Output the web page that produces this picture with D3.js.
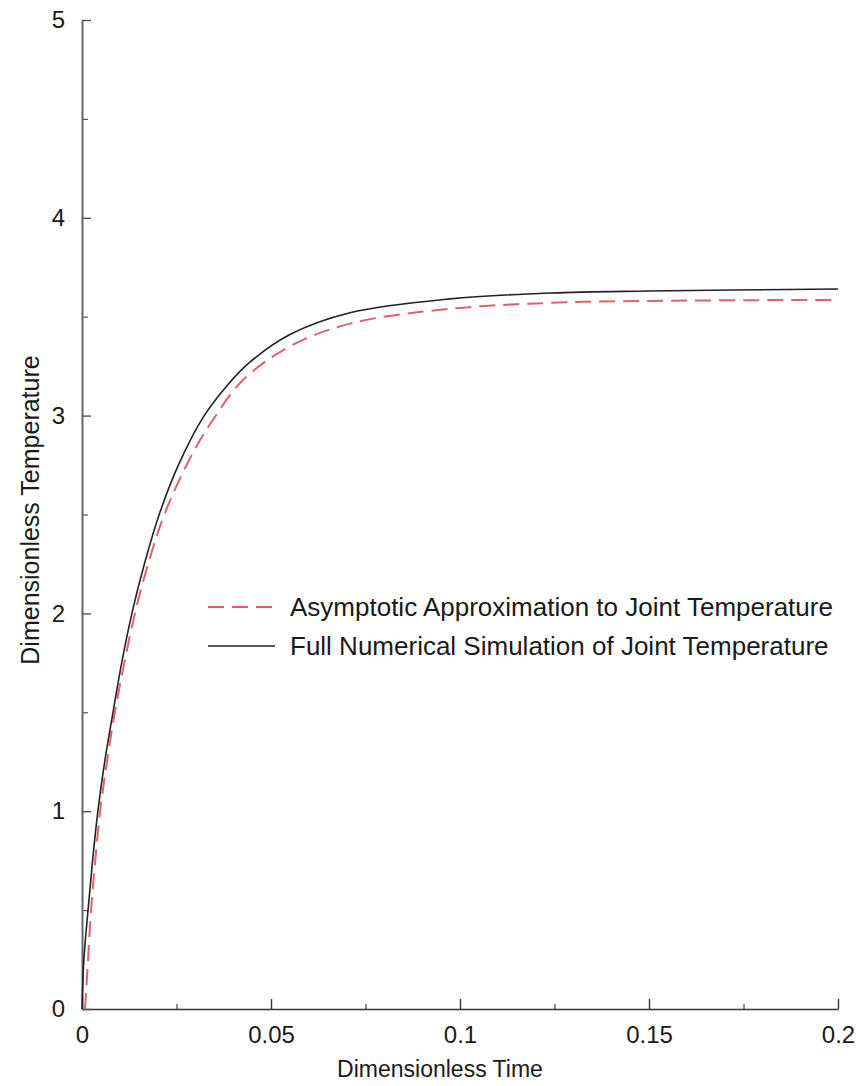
<!DOCTYPE html>
<html>
<head>
<meta charset="utf-8">
<script src="https://cdn.jsdelivr.net/npm/d3@7"></script>
<style>
  html, body { margin: 0; padding: 0; background: #fff; }
  svg { display: block; font-family: "Liberation Sans", Arial, Helvetica, sans-serif; }
</style>
</head>
<body>
<svg id="chart" width="865" height="1086"></svg>
<script>
// Joint temperature response: full numerical simulation vs asymptotic approximation
const timeFull = [0, 0.0005, 0.0016, 0.0028, 0.0042, 0.006, 0.0082, 0.0105, 0.0132, 0.0165,
                  0.0206, 0.0255, 0.032, 0.0383, 0.0444, 0.055, 0.0709, 0.0974, 0.124, 0.15, 0.2];
const tempFull = [0, 0.25, 0.5, 0.75, 1.0, 1.25, 1.5, 1.75, 2.0, 2.25,
                  2.51, 2.75, 2.99, 3.15, 3.27, 3.41, 3.52, 3.59, 3.62, 3.63, 3.64];

const timeAsym = [0.0008, 0.0016, 0.0024, 0.0035, 0.0048, 0.0066, 0.0087, 0.0112, 0.014, 0.0178,
                  0.022, 0.029, 0.0347, 0.0426, 0.055, 0.0709, 0.0974, 0.124, 0.15, 0.2];
const tempAsym = [0, 0.25, 0.5, 0.75, 1.0, 1.25, 1.5, 1.75, 2.0, 2.27,
                  2.51, 2.8, 2.98, 3.18, 3.35, 3.465, 3.54, 3.57, 3.58, 3.585];

const seriesNames = ["Asymptotic Approximation to Joint Temperature",
                     "Full Numerical Simulation of Joint Temperature"];

const xTickValues = [0, 0.05, 0.1, 0.15, 0.2];
const xTickLabels = ["0", "0.05", "0.1", "0.15", "0.2"];
const xMinorTicks = [0.025, 0.075, 0.125, 0.175];
const yTickValues = [0, 1, 2, 3, 4, 5];
const yTickLabels = ["0", "1", "2", "3", "4", "5"];
const yMinorTicks = [0.5, 1.5, 2.5, 3.5, 4.5];

const xTitle = "Dimensionless Time";
const yTitle = "Dimensionless Temperature";

const svg = d3.select("#chart");

const x = d3.scaleLinear().domain([0, 0.2]).range([82, 838]);
const y = d3.scaleLinear().domain([0, 5]).range([1009, 20]);

const ink = "#1a1a1a";

// minor ticks (inward)
svg.append("g")
  .attr("transform", `translate(0,${y(0)})`)
  .call(d3.axisBottom(x).tickValues(xMinorTicks).tickSize(-5).tickSizeOuter(0).tickFormat(""))
  .call(g => g.select(".domain").remove())
  .call(g => g.selectAll("line").attr("stroke", "#444").attr("stroke-width", 1.2));

svg.append("g")
  .attr("transform", `translate(${x(0)},0)`)
  .call(d3.axisLeft(y).tickValues(yMinorTicks).tickSize(-6).tickSizeOuter(0).tickFormat(""))
  .call(g => g.select(".domain").remove())
  .call(g => g.selectAll("line").attr("stroke", "#555").attr("stroke-width", 1.2));

// major axes
const xAxis = svg.append("g")
  .attr("transform", `translate(0,${y(0)})`)
  .call(d3.axisBottom(x).tickValues(xTickValues).tickSize(-10).tickSizeOuter(0).tickPadding(17)
    .tickFormat((d, i) => xTickLabels[i]));
xAxis.select(".domain").attr("stroke", "#333").attr("stroke-width", 1.6);
xAxis.selectAll("line").attr("stroke", "#333").attr("stroke-width", 1.4);
xAxis.selectAll("text").attr("font-size", 24).attr("fill", ink).attr("font-family", null);

const yAxis = svg.append("g")
  .attr("transform", `translate(${x(0)},0)`)
  .call(d3.axisLeft(y).tickValues(yTickValues).tickSize(-9).tickSizeOuter(0).tickPadding(17)
    .tickFormat((d, i) => yTickLabels[i]));
yAxis.select(".domain").attr("stroke", "#666").attr("stroke-width", 2);
yAxis.selectAll("line").attr("stroke", "#555").attr("stroke-width", 1.4);
yAxis.selectAll("text").attr("font-size", 24).attr("fill", ink).attr("font-family", null);

// curves
const lineFull = d3.line()
  .x((d, i) => x(timeFull[i]))
  .y(d => y(d))
  .curve(d3.curveCatmullRom.alpha(0.5));
const lineAsym = d3.line()
  .x((d, i) => x(timeAsym[i]))
  .y(d => y(d))
  .curve(d3.curveCatmullRom.alpha(0.5));

const redColor = "#e2606c";

svg.append("path")
  .attr("d", lineAsym(tempAsym))
  .attr("fill", "none")
  .attr("stroke", redColor)
  .attr("stroke-width", 2)
  .attr("stroke-dasharray", "16,8");

svg.append("path")
  .attr("d", lineFull(tempFull))
  .attr("fill", "none")
  .attr("stroke", "#222")
  .attr("stroke-width", 1.6);

// legend
const legend = svg.append("g");
const legendRows = [
  { name: seriesNames[0], color: redColor, dash: "16,8", width: 2, yv: 607 },
  { name: seriesNames[1], color: "#222", dash: null, width: 1.6, yv: 646 }
];
legendRows.forEach(r => {
  legend.append("line")
    .attr("x1", 208).attr("x2", 275)
    .attr("y1", r.yv).attr("y2", r.yv)
    .attr("stroke", r.color)
    .attr("stroke-width", r.width)
    .attr("stroke-dasharray", r.dash);
  legend.append("text")
    .attr("x", 290).attr("y", r.yv)
    .attr("dominant-baseline", "central")
    .attr("font-size", 26)
    .attr("fill", ink)
    .text(r.name);
});

// axis titles
svg.append("text")
  .attr("x", 440).attr("y", 1077)
  .attr("text-anchor", "middle")
  .attr("font-size", 23)
  .attr("fill", ink)
  .text(xTitle);

svg.append("text")
  .attr("transform", "translate(30,510) rotate(-90)")
  .attr("text-anchor", "middle")
  .attr("dominant-baseline", "central")
  .attr("font-size", 25)
  .attr("fill", ink)
  .text(yTitle);
</script>
</body>
</html>
